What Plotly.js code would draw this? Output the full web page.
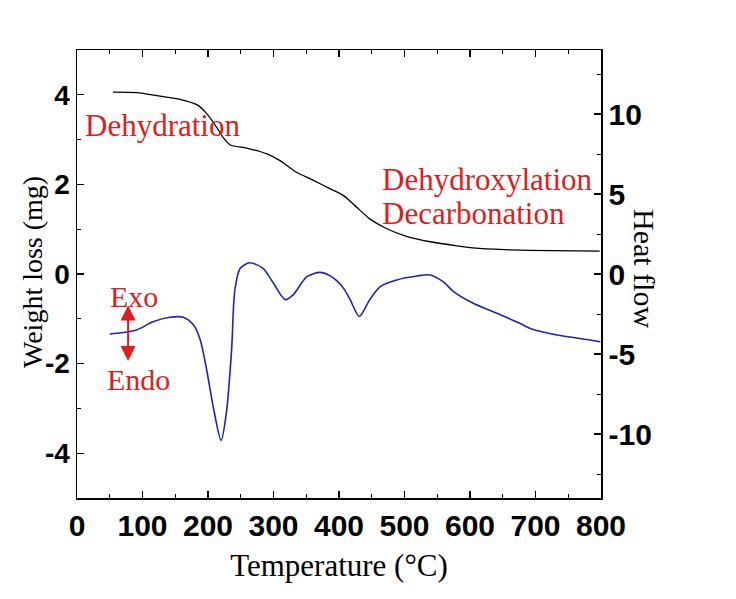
<!DOCTYPE html>
<html>
<head>
<meta charset="utf-8">
<script src="https://cdn.plot.ly/plotly-3.0.1.min.js"></script>
<style>html,body{margin:0;padding:0;background:#fff;}#chart{width:736px;height:599px;}</style>
</head>
<body>
<div id="chart"></div>
<script>
// Weight loss (TG) curve, left axis (mg)
const tgTemp = [55, 91, 127, 157, 183, 198, 213, 223, 234, 259, 290, 310, 335, 361, 388, 407, 427, 447, 473, 503, 539, 580, 615, 661, 722, 798];
const tgWeight = [4.06, 4.05, 3.97, 3.90, 3.78, 3.58, 3.28, 3.05, 2.88, 2.81, 2.68, 2.53, 2.27, 2.09, 1.89, 1.75, 1.49, 1.23, 1.01, 0.84, 0.72, 0.63, 0.57, 0.54, 0.52, 0.51];

// Heat flow (DTA) curve, right axis
const dtaTemp = [50, 91, 116, 142, 162, 178, 188, 198, 208, 220, 228, 236, 241, 249, 264, 284, 300, 318, 330, 351, 371, 386, 396, 407, 417, 431, 447, 463, 488, 519, 539, 559, 575, 605, 641, 676, 692, 742, 783, 799];
const dtaHeat = [-3.75, -3.5, -2.98, -2.7, -2.7, -3.19, -4.1, -6.0, -8.3, -10.4, -8.7, -4.75, -1.0, 0.35, 0.7, 0.35, -0.58, -1.6, -1.3, -0.17, 0.1, -0.1, -0.4, -0.9, -1.6, -2.65, -1.6, -0.79, -0.37, -0.12, -0.06, -0.48, -1.1, -1.83, -2.45, -3.08, -3.4, -3.88, -4.12, -4.23];

const xTicks = [0, 100, 200, 300, 400, 500, 600, 700, 800];
const yLeftTicks = [-4, -2, 0, 2, 4];
const yRightTicks = [-10, -5, 0, 5, 10];

const serif = 'Liberation Serif, Times New Roman, serif';
const tickFamily = 'Liberation Sans Narrow, Arial Narrow, Liberation Sans, Arial, sans-serif';
const tickFont = {family: tickFamily, size: 30, color: '#000', weight: 'bold'};
const tickFontLeft = {family: tickFamily, size: 28, color: '#000', weight: 'bold'};
const red = '#dc1e1e';

const traces = [
  {x: tgTemp, y: tgWeight, type: 'scatter', mode: 'lines', line: {color: '#000', width: 1.3, shape: 'spline', smoothing: 0.6}, yaxis: 'y', hoverinfo: 'skip'},
  {x: dtaTemp, y: dtaHeat, type: 'scatter', mode: 'lines', line: {color: '#2222bb', width: 1.6, shape: 'spline', smoothing: 0.8}, yaxis: 'y2', hoverinfo: 'skip'}
];

const layout = {
  width: 736, height: 599,
  margin: {l: 77, r: 135, t: 50, b: 101},
  paper_bgcolor: '#fff', plot_bgcolor: '#fff',
  showlegend: false,
  xaxis: {
    range: [0, 800], tickvals: xTicks, ticktext: xTicks.map(String),
    ticks: 'inside', ticklen: 7, tickwidth: 1.2, tickcolor: '#000',
    minor: {dtick: 50, tick0: 0, ticks: 'inside', ticklen: 4, tickcolor: '#000', tickwidth: 1},
    showline: true, linecolor: '#000', linewidth: 1.5, mirror: 'ticks',
    showgrid: false, zeroline: false, tickfont: tickFont,
    title: {text: 'Temperature (°C)', font: {family: serif, size: 31, color: '#000'}, standoff: 14}
  },
  yaxis: {
    range: [-5, 5], tickvals: yLeftTicks, ticktext: yLeftTicks.map(String),
    ticks: 'inside', ticklen: 7, tickwidth: 1.2, tickcolor: '#000',
    minor: {dtick: 1, tick0: 0, ticks: 'inside', ticklen: 4, tickcolor: '#000', tickwidth: 1},
    showline: true, linecolor: '#000', linewidth: 1.5,
    showgrid: false, zeroline: false, tickfont: tickFontLeft
  },
  yaxis2: {
    overlaying: 'y', side: 'right', anchor: 'x',
    range: [-14, 14], tickvals: yRightTicks, ticktext: yRightTicks.map(String),
    ticks: 'inside', ticklen: 7, tickwidth: 1.2, tickcolor: '#000',
    minor: {dtick: 2.5, tick0: 0, ticks: 'inside', ticklen: 4, tickcolor: '#000', tickwidth: 1},
    showline: true, linecolor: '#000', linewidth: 1.5,
    showgrid: false, zeroline: false, tickfont: tickFont
  },
  annotations: [
    {text: 'Weight loss (mg)', xref: 'paper', yref: 'paper', x: 0, y: 0.5, xanchor: 'center', yanchor: 'middle', xshift: -45, yshift: 2, textangle: -90, showarrow: false, font: {family: serif, size: 28, color: '#000'}},
    {text: 'Heat flow', xref: 'paper', yref: 'paper', x: 1, y: 0.5, xanchor: 'center', yanchor: 'middle', xshift: 44, yshift: 6, textangle: 90, showarrow: false, font: {family: serif, size: 30, color: '#000'}},
    {text: 'Dehydration', xref: 'x', yref: 'y', x: 130, y: 3.31, showarrow: false, font: {family: serif, size: 31, color: red}},
    {text: 'Dehydroxylation', xref: 'x', yref: 'y', x: 462, y: 2.12, xanchor: 'left', showarrow: false, font: {family: serif, size: 31, color: red}},
    {text: 'Decarbonation', xref: 'x', yref: 'y', x: 462, y: 1.34, xanchor: 'left', showarrow: false, font: {family: serif, size: 31, color: red}},
    {text: 'Exo', xref: 'x', yref: 'y', x: 87, y: -0.51, showarrow: false, font: {family: serif, size: 30, color: red}},
    {text: 'Endo', xref: 'x', yref: 'y', x: 94, y: -2.35, showarrow: false, font: {family: serif, size: 30, color: red}},
    {text: '', xref: 'x', yref: 'y', x: 78, y: -1.94, axref: 'x', ayref: 'y', ax: 78, ay: -0.67,
     showarrow: true, arrowhead: 2, startarrowhead: 2, arrowside: 'end+start', arrowsize: 1.5, startarrowsize: 1.5, arrowwidth: 2, arrowcolor: red, standoff: 0, startstandoff: 0}
  ]
};

Plotly.newPlot('chart', traces, layout, {staticPlot: true, displayModeBar: false});
</script>
</body>
</html>
